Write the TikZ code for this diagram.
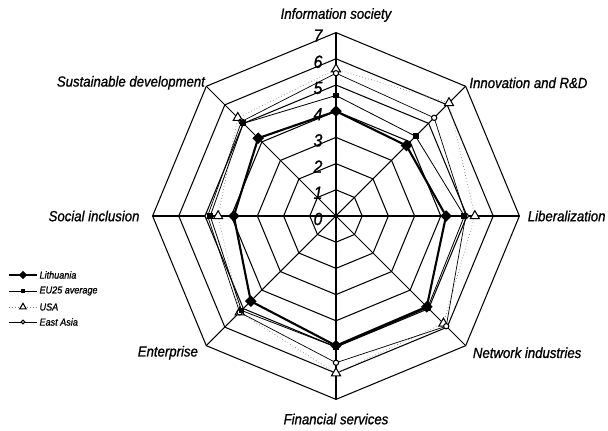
\documentclass[tikz,border=0pt]{standalone}
\usepackage{fontspec}
\setmainfont{Liberation Sans}
\newfontfamily\chartfont[FakeStretch=0.9,FakeBold=1]{Liberation Sans}
\usetikzlibrary{positioning,shapes.geometric}
\def\rU{26.2}
\tikzstyle{grid}=[line width=0.9pt, black]
\tikzstyle{axlabel}=[font=\chartfont\fontsize{12.5}{14}\selectfont\itshape, inner sep=0pt]
\tikzstyle{scalelab}=[font=\chartfont\fontsize{15}{17}\selectfont\itshape, inner sep=0pt]
\tikzstyle{legtext}=[font=\chartfont\fontsize{8.6}{10}\selectfont\itshape, inner sep=0pt]
\tikzstyle{litline}=[line width=1.8pt, line join=round]
\tikzstyle{euline}=[line width=0.7pt, line join=round]
\tikzstyle{usaline}=[line width=0.6pt, gray, dotted]
\tikzstyle{asialine}=[line width=0.6pt, line join=round]
\tikzstyle{litmark}=[diamond, fill=black, inner sep=0pt, minimum size=10pt]
\tikzstyle{eumark}=[rectangle, fill=black, inner sep=0pt, minimum size=5pt]
\tikzstyle{usamark}=[regular polygon, regular polygon sides=3, draw, fill=white, line width=0.9pt, inner sep=0pt, minimum size=9pt]
\tikzstyle{asiamark}=[circle, draw, fill=white, line width=0.9pt, inner sep=0pt, minimum size=4.5pt]
\newcommand{\radarLine}[3]{
  \foreach \v [count=\i] in {#2} \coordinate (#1\i) at ({135-45*\i}:{\v*\rU});
  \draw[#3] (#11) -- (#12) -- (#13) -- (#14) -- (#15) -- (#16) -- (#17) -- (#18) -- cycle;
}
\newcommand{\radarMarks}[2]{\foreach \i in {1,...,8} \node[#2] (#1m\i) at (#1\i) {};}

\begin{document}
\begin{tikzpicture}[x=0.03cm, y=0.03cm]
\useasboundingbox (-336,-215) rectangle (272,216);

% grid
\coordinate (O) at (0,0);
\foreach \i in {1,...,8} {
  \coordinate (v\i) at ({135-45*\i}:{7*\rU});
  \draw[grid] (O) -- (v\i);
}
\foreach \k in {1,...,7}
  \draw[grid] (90:{\k*\rU}) -- (45:{\k*\rU}) -- (0:{\k*\rU}) -- (-45:{\k*\rU}) -- (-90:{\k*\rU})
    -- (-135:{\k*\rU}) -- (180:{\k*\rU}) -- (135:{\k*\rU}) -- cycle;
\foreach \k in {0,...,7}
  \node[scalelab] (n\k) at (-18,{\k*\rU-3}) {\k};

% axis labels
\node[axlabel, above=9pt of v1] (lb1) {Information society};
\node[axlabel, right=3pt of v2, yshift=3pt] (lb2) {Innovation and R\&D};
\node[axlabel, right=7pt of v3] (lb3) {Liberalization};
\node[axlabel, right=6pt of v4, yshift=-6pt] (lb4) {Network industries};
\node[axlabel, below=12pt of v5] (lb5) {Financial services};
\node[axlabel, left=7pt of v6, yshift=-6pt] (lb6) {Enterprise};
\node[axlabel, left=11pt of v7] (lb7) {Social inclusion};
\node[axlabel, left=1pt of v8, yshift=3pt] (lb8) {Sustainable development};

% series
\radarLine{usa}{5.6,6.1,5.3,5.8,6.0,5.2,4.5,5.3}{usaline}
\radarLine{asia}{5.45,5.3,4.95,5.95,5.6,5.2,4.9,5.1}{asialine}
\radarLine{eu}{4.6,4.3,4.9,4.95,5.0,5.1,4.8,5.0}{euline}
\radarLine{lit}{4.0,3.8,4.2,4.9,4.95,4.6,3.9,4.2}{litline}
\radarMarks{usa}{usamark}
\radarMarks{asia}{asiamark}
\radarMarks{eu}{eumark}
\radarMarks{lit}{litmark}

% legend
\foreach \ln/\mk/\y/\lab in {litline/litmark/-59/Lithuania, euline/eumark/-75/EU25 average,
    usaline/usamark/-91/USA, asialine/asiamark/-106/East Asia} {
  \coordinate (\mk L) at (-327,\y);
  \coordinate (\mk R) at (-299,\y);
  \draw[\ln] (\mk L) -- (\mk R);
  \node[\mk, scale=0.7] (\mk C) at (-313,\y) {};
  \node[legtext, right=2pt of \mk R] (\mk T) {\lab};
}
\end{tikzpicture}
\end{document}
